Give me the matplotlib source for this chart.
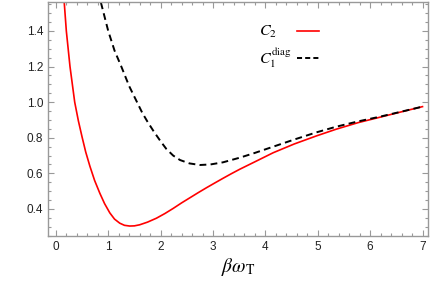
import matplotlib
matplotlib.use('Agg')
import matplotlib.pyplot as plt
from matplotlib.ticker import MultipleLocator, FormatStrFormatter

plt.rcParams['font.family'] = 'Liberation Sans'
plt.rcParams['mathtext.fontset'] = 'stix'

# values
c2_x = [0.16, 0.20, 0.27, 0.36, 0.43, 0.50, 0.57, 0.65, 0.74, 0.84, 0.93, 1.03, 1.12, 1.22, 1.31,
        1.41, 1.50, 1.60, 1.75, 1.92, 2.08, 2.24, 2.40, 2.56, 2.72, 2.88, 3.04, 3.19, 3.35, 3.51,
        3.8, 4.15, 4.55, 4.97, 5.35, 5.77, 6.18, 6.6, 7.0]
c2_y = [1.56, 1.40, 1.20, 1.00, 0.895, 0.805, 0.72, 0.64, 0.56, 0.488, 0.43, 0.378, 0.343, 0.320, 0.308,
        0.304, 0.305, 0.311, 0.326, 0.348, 0.374, 0.403, 0.434, 0.463, 0.492, 0.520, 0.547, 0.572, 0.598, 0.623,
        0.665, 0.716, 0.765, 0.810, 0.848, 0.885, 0.915, 0.946, 0.975]
c1_x = [0.86, 0.93, 1.0, 1.12, 1.25, 1.40, 1.55, 1.65, 1.75, 1.87, 2.0, 2.11, 2.24, 2.37, 2.55, 2.75,
        2.95, 3.19, 3.51, 3.8, 4.15, 4.55, 4.97, 5.35, 5.77, 6.18, 6.6, 7.0]
c1_y = [1.56, 1.48, 1.40, 1.29, 1.20, 1.09, 1.00, 0.94, 0.89, 0.835, 0.78, 0.737, 0.70, 0.675, 0.656, 0.647,
        0.650, 0.662, 0.688, 0.715, 0.75, 0.79, 0.83, 0.862, 0.892, 0.918, 0.947, 0.975]
labels = [r'$C_2$', r'$C_1^{\rm diag}$']

RED = '#ff0000'
fig = plt.figure(figsize=(4.34, 2.84), dpi=100)
ax = fig.add_axes([0.1106, 0.169, 0.875, 0.824])
ax.plot(c2_x, c2_y, color=RED, lw=1.2)
ax.plot(c1_x, c1_y, color='black', lw=1.4, ls=(0, (3.5, 2.2)))

ax.set_xlim(-0.15, 7.1)
ax.set_ylim(0.248, 1.563)
ax.xaxis.set_major_locator(MultipleLocator(1))
ax.xaxis.set_minor_locator(MultipleLocator(0.2))
ax.yaxis.set_minor_locator(MultipleLocator(0.05))
ax.set_yticks([0.4, 0.6, 0.8, 1.0, 1.2, 1.4])
ax.yaxis.set_major_formatter(FormatStrFormatter('%.1f'))
ax.tick_params(which='both', direction='in', top=True, right=True, color='#999999',
               labelsize=8.5, labelcolor='#222222', width=0.8)
ax.tick_params(which='major', length=4)
ax.tick_params(which='minor', length=2)
for s in ax.spines.values():
    s.set_color('#999999')
    s.set_linewidth(1.0)

ax.set_xlabel(r'$\beta\omega_{\mathrm{T}}$', fontsize=14, labelpad=2)

# legend, Mathematica style: label left-aligned, line sample on the right
ax.text(0.555, 0.856, labels[0], transform=ax.transAxes, fontsize=11.5, va='baseline', ha='left')
ax.text(0.555, 0.738, labels[1], transform=ax.transAxes, fontsize=11.5, va='baseline', ha='left')
ax.plot([0.655, 0.713], [0.877, 0.877], transform=ax.transAxes, color=RED, lw=1.2)
ax.plot([0.655, 0.713], [0.762, 0.762], transform=ax.transAxes, color='black', lw=1.4,
        ls=(0, (2.6, 1.6)))

fig.savefig('out.png', dpi=100, facecolor='white')
